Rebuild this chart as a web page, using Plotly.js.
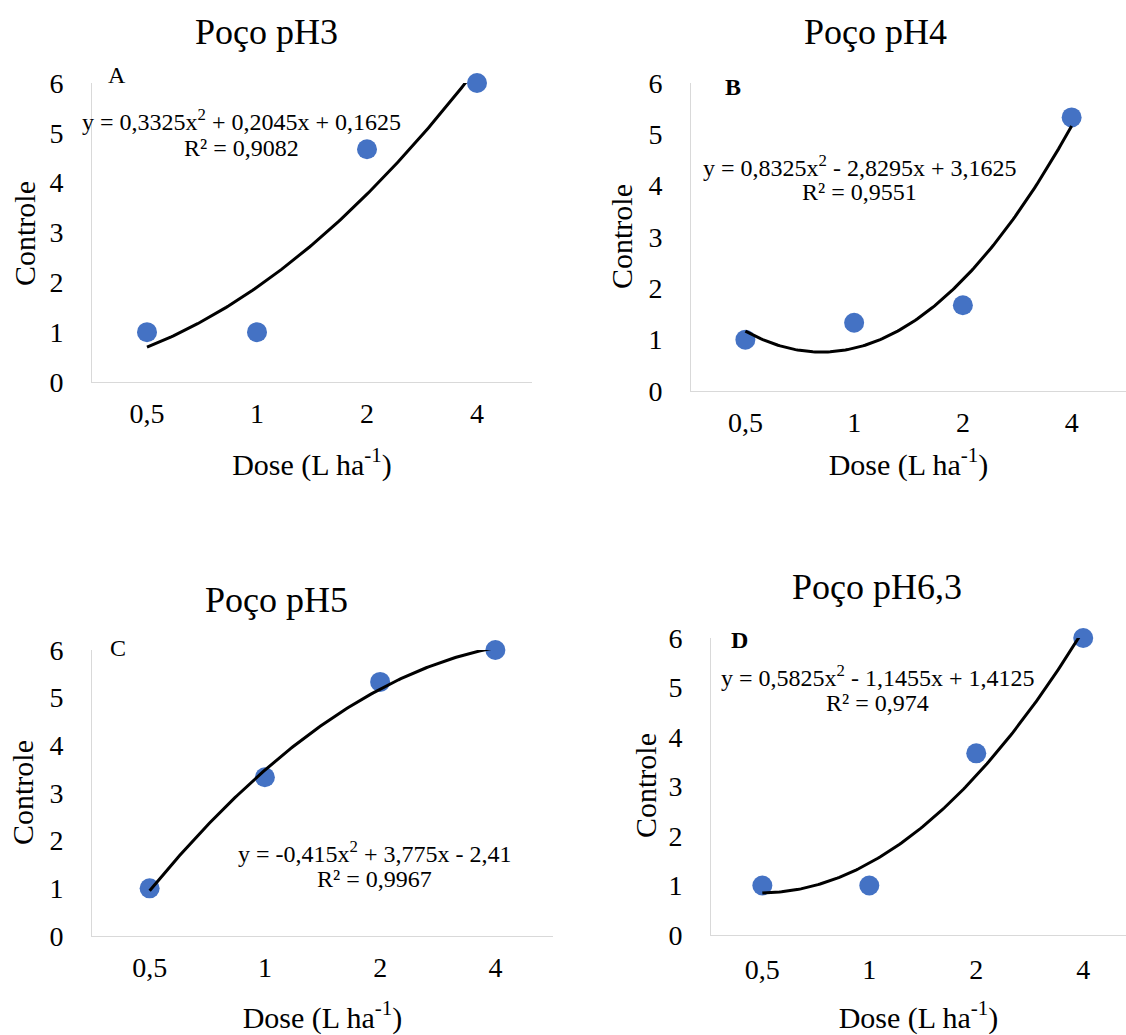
<!DOCTYPE html>
<html>
<head>
<meta charset="utf-8">
<script src="https://cdn.plot.ly/plotly-3.0.1.min.js"></script>
<style>html,body{margin:0;padding:0;background:#fff}#chart{width:1126px;height:1035px}</style>
</head>
<body>
<div id="chart"></div>
<script>
// ---- data ----
const doseLabels = ['0,5', '1', '2', '4'];
const doseIndex = [1, 2, 3, 4];           // Excel category positions
const panelTitles = ['Poço pH3', 'Poço pH4', 'Poço pH5', 'Poço pH6,3'];
const panelLetters = ['A', 'B', 'C', 'D'];
const controlePH3 = [1, 1, 4.67, 6];
const controlePH4 = [1, 1.33, 1.67, 5.33];
const controlePH5 = [1, 3.33, 5.33, 6];
const controlePH63 = [1, 1, 3.67, 6];
// trendline coefficients shown in the chart: y = a x^2 + b x + c
const coefPH3 = [0.3325, 0.2045, 0.1625];
const coefPH4 = [0.8325, -2.8295, 3.1625];
const coefPH5 = [-0.415, 3.775, -2.41];
const coefPH63 = [0.5825, -1.1455, 1.4125];
const eqTexts = [
  'y = 0,3325x<sup>2</sup> + 0,2045x + 0,1625',
  'y = 0,8325x<sup>2</sup> - 2,8295x + 3,1625',
  'y = -0,415x<sup>2</sup> + 3,775x - 2,41',
  'y = 0,5825x<sup>2</sup> - 1,1455x + 1,4125'
];
const r2Texts = ['R² = 0,9082', 'R² = 0,9551', 'R² = 0,9967', 'R² = 0,974'];
const xTitle = 'Dose (L ha<sup>-1</sup>)';
const yTitle = 'Controle';

const series = [controlePH3, controlePH4, controlePH5, controlePH63];
const coefs = [coefPH3, coefPH4, coefPH5, coefPH63];

// ---- layout geometry (pixels) ----
const W = 1126, H = 1035;
const FONT = "'Liberation Serif', 'Times New Roman', Times, serif";
const px = v => v / W;
const py = v => 1 - v / H;
const panels = [
  {x0: 92,  x1: 532,  y0: 83,  y1: 382, xr: [0.5, 4.5], title: [266, 32], letter: [117, 75, false], eq: [241, 120, 148], ytl: [24, 234], tl: 6, so: 26},
  {x0: 691, x1: 1126, y0: 83,  y1: 391, xr: [0.5, 4.5], title: [875, 32], letter: [733, 87, true],  eq: [860, 166, 192], ytl: [622, 237], tl: 6, so: 17},
  {x0: 92,  x1: 553,  y0: 650, y1: 936, xr: [0.5, 4.5], title: [276, 600], letter: [118, 648, false], eq: [374, 852, 879], ytl: [22, 793], tl: 6, so: 28},
  {x0: 711, x1: 1126, y0: 638, y1: 935, xr: [0.52, 4.4], title: [877, 587], letter: [739, 640, true], eq: [877, 676, 703], ytl: [645, 786], tl: 9, so: 23}
];

const traces = [];
const layout = {
  width: W, height: H,
  margin: {l: 0, r: 0, t: 0, b: 0},
  paper_bgcolor: '#ffffff', plot_bgcolor: '#ffffff',
  showlegend: false,
  font: {family: FONT, color: '#000000'},
  annotations: []
};

panels.forEach((p, i) => {
  const n = i + 1;
  const xa = n === 1 ? 'x' : 'x' + n;
  const ya = n === 1 ? 'y' : 'y' + n;
  // data points
  traces.push({
    type: 'scatter', mode: 'markers', xaxis: xa, yaxis: ya,
    x: doseIndex, y: series[i],
    marker: {size: 20, color: '#4472C4'},
    cliponaxis: false, hoverinfo: 'x+y'
  });
  // polynomial trendline from the displayed equation
  const c = coefs[i];
  const tx = [], ty = [];
  for (let k = 0; k <= 150; k++) {
    const x = doseIndex[0] + (doseIndex[3] - doseIndex[0]) * k / 150;
    tx.push(x);
    ty.push(c[0] * x * x + c[1] * x + c[2]);
  }
  traces.push({
    type: 'scatter', mode: 'lines', xaxis: xa, yaxis: ya,
    x: tx, y: ty, line: {color: '#000000', width: 3}, hoverinfo: 'skip'
  });

  layout['xaxis' + (n === 1 ? '' : n)] = {
    domain: [px(p.x0), px(p.x1)], anchor: ya,
    range: p.xr, tickmode: 'array', tickvals: doseIndex, ticktext: doseLabels,
    showline: true, linecolor: '#d9d9d9', linewidth: 1,
    showgrid: false, zeroline: false,
    ticks: 'outside', ticklen: p.tl, tickcolor: 'rgba(0,0,0,0)',
    tickfont: {size: 28, family: FONT, color: '#000'},
    title: {text: xTitle, font: {size: 30, family: FONT, color: '#000'}, standoff: p.so}
  };
  layout['yaxis' + (n === 1 ? '' : n)] = {
    domain: [py(p.y1), py(p.y0)], anchor: xa,
    range: [0, 6], dtick: 1, tick0: 0,
    showline: true, linecolor: '#d9d9d9', linewidth: 1,
    showgrid: false, zeroline: false,
    ticks: 'outside', ticklen: 22, tickcolor: 'rgba(0,0,0,0)',
    tickfont: {size: 28, family: FONT, color: '#000'}
  };

  const ann = (text, x, y, size, extra) => Object.assign({
    xref: 'paper', yref: 'paper', x: px(x), y: py(y),
    xanchor: 'center', yanchor: 'middle', showarrow: false, text: text,
    font: {size: size, family: FONT, color: '#000'}
  }, extra || {});
  layout.annotations.push(ann(panelTitles[i], p.title[0], p.title[1], 36));
  layout.annotations.push(ann(yTitle, p.ytl[0], p.ytl[1], 30, {textangle: -90}));
  layout.annotations.push(ann(p.letter[2] ? '<b>' + panelLetters[i] + '</b>' : panelLetters[i], p.letter[0], p.letter[1], 24));
  layout.annotations.push(ann(eqTexts[i], p.eq[0], p.eq[1], 24));
  layout.annotations.push(ann(r2Texts[i], p.eq[0], p.eq[2], 24));
});

Plotly.newPlot('chart', traces, layout, {displayModeBar: false, staticPlot: true});
</script>
</body>
</html>
